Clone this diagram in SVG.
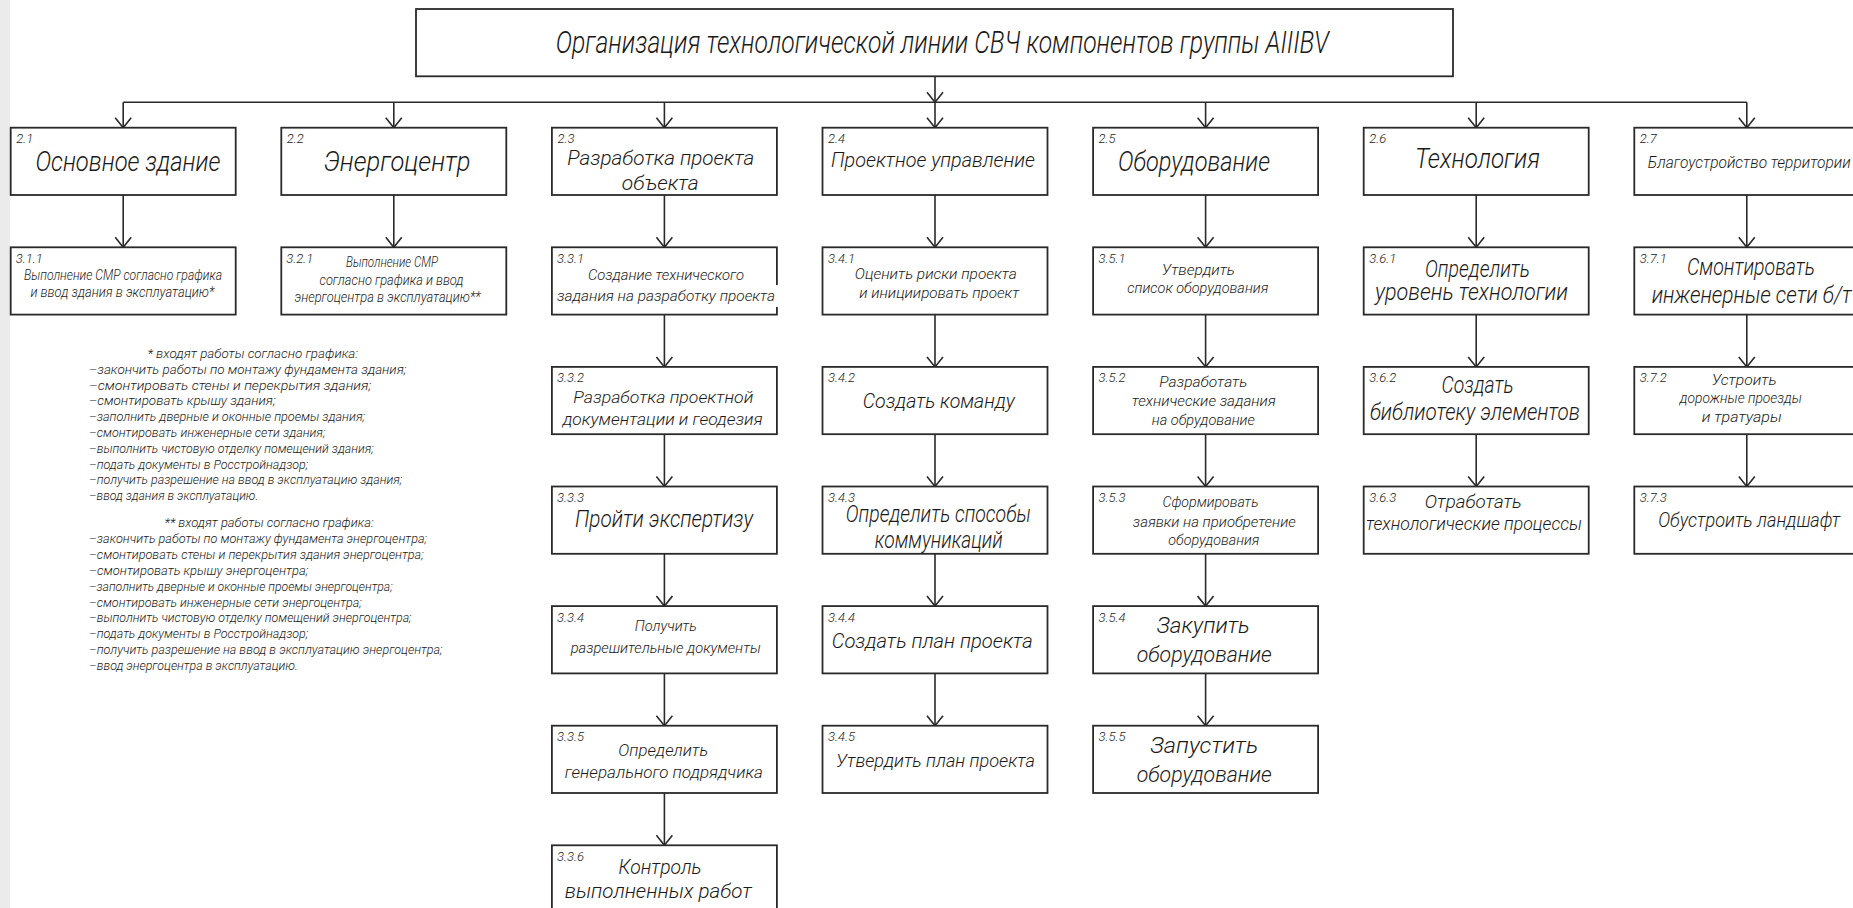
<svg xmlns="http://www.w3.org/2000/svg" width="1853" height="908" viewBox="0 0 1853 908">
<style>
.bg{fill:#ffffff}
.box{fill:#ffffff;stroke:#2a2a2a;stroke-width:1.8}
.mask{fill:#ffffff;stroke:none}
.ln{stroke:#2a2a2a;stroke-width:1.6;fill:none}
.t{font-family:Roboto,"Open Sans","Liberation Sans Narrow",sans-serif;font-weight:300;font-style:italic;fill:#1a1a1a;text-anchor:middle}
.n{font-family:Roboto,"Open Sans","Liberation Sans Narrow",sans-serif;font-weight:300;font-style:italic;fill:#1a1a1a;font-size:13px;text-anchor:start}
.nt{font-family:Roboto,"Open Sans","Liberation Sans Narrow",sans-serif;font-weight:300;font-style:italic;fill:#1a1a1a;font-size:12px;text-anchor:start}
</style>
<defs>
<marker id="ah" viewBox="-1 -9 12 18" refX="10" refY="0" markerWidth="12" markerHeight="18" markerUnits="userSpaceOnUse" orient="auto">
<path d="M0,-8 L10,0 L0,8" fill="none" stroke="#2a2a2a" stroke-width="1.6"/>
</marker>
</defs>
<rect class="bg" x="0" y="0" width="1853" height="908"/>
<rect x="0" y="0" width="10" height="908" fill="#ebebeb"/>

<g id="connectors">
<line class="ln" x1="935" y1="76.3" x2="935" y2="102.3" marker-end="url(#ah)"/>
<line class="ln" x1="123.2" y1="102.3" x2="1746.8" y2="102.3"/>
<line class="ln" x1="123.2" y1="102.3" x2="123.2" y2="127.7" marker-end="url(#ah)"/>
<line class="ln" x1="393.8" y1="102.3" x2="393.8" y2="127.7" marker-end="url(#ah)"/>
<line class="ln" x1="664.4" y1="102.3" x2="664.4" y2="127.7" marker-end="url(#ah)"/>
<line class="ln" x1="935" y1="102.3" x2="935" y2="127.7" marker-end="url(#ah)"/>
<line class="ln" x1="1205.6" y1="102.3" x2="1205.6" y2="127.7" marker-end="url(#ah)"/>
<line class="ln" x1="1476.2" y1="102.3" x2="1476.2" y2="127.7" marker-end="url(#ah)"/>
<line class="ln" x1="1746.8" y1="102.3" x2="1746.8" y2="127.7" marker-end="url(#ah)"/>
<line class="ln" x1="123.2" y1="195" x2="123.2" y2="247.3" marker-end="url(#ah)"/>
<line class="ln" x1="393.8" y1="195" x2="393.8" y2="247.3" marker-end="url(#ah)"/>
<line class="ln" x1="664.4" y1="195" x2="664.4" y2="247.3" marker-end="url(#ah)"/>
<line class="ln" x1="664.4" y1="314.6" x2="664.4" y2="366.9" marker-end="url(#ah)"/>
<line class="ln" x1="664.4" y1="434.2" x2="664.4" y2="486.5" marker-end="url(#ah)"/>
<line class="ln" x1="664.4" y1="553.8" x2="664.4" y2="606.1" marker-end="url(#ah)"/>
<line class="ln" x1="664.4" y1="673.4" x2="664.4" y2="725.7" marker-end="url(#ah)"/>
<line class="ln" x1="664.4" y1="793" x2="664.4" y2="845.3" marker-end="url(#ah)"/>
<line class="ln" x1="935" y1="195" x2="935" y2="247.3" marker-end="url(#ah)"/>
<line class="ln" x1="935" y1="314.6" x2="935" y2="366.9" marker-end="url(#ah)"/>
<line class="ln" x1="935" y1="434.2" x2="935" y2="486.5" marker-end="url(#ah)"/>
<line class="ln" x1="935" y1="553.8" x2="935" y2="606.1" marker-end="url(#ah)"/>
<line class="ln" x1="935" y1="673.4" x2="935" y2="725.7" marker-end="url(#ah)"/>
<line class="ln" x1="1205.6" y1="195" x2="1205.6" y2="247.3" marker-end="url(#ah)"/>
<line class="ln" x1="1205.6" y1="314.6" x2="1205.6" y2="366.9" marker-end="url(#ah)"/>
<line class="ln" x1="1205.6" y1="434.2" x2="1205.6" y2="486.5" marker-end="url(#ah)"/>
<line class="ln" x1="1205.6" y1="553.8" x2="1205.6" y2="606.1" marker-end="url(#ah)"/>
<line class="ln" x1="1205.6" y1="673.4" x2="1205.6" y2="725.7" marker-end="url(#ah)"/>
<line class="ln" x1="1476.2" y1="195" x2="1476.2" y2="247.3" marker-end="url(#ah)"/>
<line class="ln" x1="1476.2" y1="314.6" x2="1476.2" y2="366.9" marker-end="url(#ah)"/>
<line class="ln" x1="1476.2" y1="434.2" x2="1476.2" y2="486.5" marker-end="url(#ah)"/>
<line class="ln" x1="1746.8" y1="195" x2="1746.8" y2="247.3" marker-end="url(#ah)"/>
<line class="ln" x1="1746.8" y1="314.6" x2="1746.8" y2="366.9" marker-end="url(#ah)"/>
<line class="ln" x1="1746.8" y1="434.2" x2="1746.8" y2="486.5" marker-end="url(#ah)"/>
</g>

<g id="n-title">
<rect class="box" x="416" y="9" width="1037" height="67.3"/>
<text class="t" x="942.3" y="52.7" font-size="31" textLength="773" lengthAdjust="spacingAndGlyphs">Организация технологической линии СВЧ компонентов группы AIIIBV</text>
</g>

<g id="n2-1">
<rect class="box" x="10.7" y="127.7" width="225" height="67.3"/>
<text class="n" x="16.2" y="143.3">2.1</text>
<text class="t" x="127.9" y="171" font-size="27" textLength="185" lengthAdjust="spacingAndGlyphs">Основное здание</text>
</g>
<g id="n2-2">
<rect class="box" x="281.3" y="127.7" width="225" height="67.3"/>
<text class="n" x="286.8" y="143.3">2.2</text>
<text class="t" x="397" y="171" font-size="27" textLength="147" lengthAdjust="spacingAndGlyphs">Энергоцентр</text>
</g>
<g id="n2-3">
<rect class="box" x="551.9" y="127.7" width="225" height="67.3"/>
<text class="n" x="557.4" y="143.3">2.3</text>
<text class="t" x="660.8" y="165" font-size="21" textLength="187" lengthAdjust="spacingAndGlyphs">Разработка проекта</text>
<text class="t" x="660.3" y="190" font-size="21" textLength="77" lengthAdjust="spacingAndGlyphs">объекта</text>
</g>
<g id="n2-4">
<rect class="box" x="822.5" y="127.7" width="225" height="67.3"/>
<text class="n" x="828" y="143.3">2.4</text>
<text class="t" x="933" y="166.7" font-size="21" textLength="204" lengthAdjust="spacingAndGlyphs">Проектное управление</text>
</g>
<g id="n2-5">
<rect class="box" x="1093.1" y="127.7" width="225" height="67.3"/>
<text class="n" x="1098.6" y="143.3">2.5</text>
<text class="t" x="1194" y="171" font-size="27" textLength="152" lengthAdjust="spacingAndGlyphs">Оборудование</text>
</g>
<g id="n2-6">
<rect class="box" x="1363.7" y="127.7" width="225" height="67.3"/>
<text class="n" x="1369.2" y="143.3">2.6</text>
<text class="t" x="1477.5" y="168.3" font-size="28" textLength="125" lengthAdjust="spacingAndGlyphs">Технология</text>
</g>
<g id="n2-7">
<rect class="box" x="1634.3" y="127.7" width="225" height="67.3"/>
<text class="n" x="1639.8" y="143.3">2.7</text>
<text class="t" x="1749.2" y="168.3" font-size="16" textLength="203" lengthAdjust="spacingAndGlyphs">Благоустройство территории</text>
</g>

<g id="n3-1-1">
<rect class="box" x="10.7" y="247.3" width="225" height="67.3"/>
<text class="n" x="15.7" y="262.8">3.1.1</text>
<text class="t" x="123" y="280" font-size="14" textLength="198" lengthAdjust="spacingAndGlyphs">Выполнение СМР согласно графика</text>
<text class="t" x="122.4" y="297" font-size="14" textLength="184" lengthAdjust="spacingAndGlyphs">и ввод здания в эксплуатацию*</text>
</g>
<g id="n3-2-1">
<rect class="box" x="281.3" y="247.3" width="225" height="67.3"/>
<text class="n" x="286.3" y="262.8">3.2.1</text>
<text class="t" x="392" y="267" font-size="14" textLength="92" lengthAdjust="spacingAndGlyphs">Выполнение СМР</text>
<text class="t" x="391.5" y="285" font-size="14" textLength="144" lengthAdjust="spacingAndGlyphs">согласно графика и ввод</text>
<text class="t" x="387.5" y="302" font-size="14" textLength="186" lengthAdjust="spacingAndGlyphs">энергоцентра в эксплуатацию**</text>
</g>

<g id="n3-3-1">
<rect class="box" x="551.9" y="247.3" width="225" height="67.3"/>
<rect class="mask" x="773" y="285" width="8" height="22"/>
<text class="n" x="556.9" y="262.8">3.3.1</text>
<text class="t" x="666" y="279.8" font-size="15" textLength="156" lengthAdjust="spacingAndGlyphs">Создание технического</text>
<text class="t" x="666" y="301.3" font-size="15" textLength="218" lengthAdjust="spacingAndGlyphs">задания на разработку проекта</text>
</g>
<g id="n3-3-2">
<rect class="box" x="551.9" y="366.9" width="225" height="67.3"/>
<text class="n" x="556.9" y="382.4">3.3.2</text>
<text class="t" x="663.3" y="402.9" font-size="17" textLength="180" lengthAdjust="spacingAndGlyphs">Разработка проектной</text>
<text class="t" x="662.7" y="424.6" font-size="17" textLength="200" lengthAdjust="spacingAndGlyphs">документации и геодезия</text>
</g>
<g id="n3-3-3">
<rect class="box" x="551.9" y="486.5" width="225" height="67.3"/>
<text class="n" x="556.9" y="502">3.3.3</text>
<text class="t" x="664" y="526.9" font-size="24" textLength="178" lengthAdjust="spacingAndGlyphs">Пройти экспертизу</text>
</g>
<g id="n3-3-4">
<rect class="box" x="551.9" y="606.1" width="225" height="67.3"/>
<text class="n" x="556.9" y="621.6">3.3.4</text>
<text class="t" x="665.8" y="631" font-size="15" textLength="62" lengthAdjust="spacingAndGlyphs">Получить</text>
<text class="t" x="665.7" y="653" font-size="15" textLength="190" lengthAdjust="spacingAndGlyphs">разрешительные документы</text>
</g>
<g id="n3-3-5">
<rect class="box" x="551.9" y="725.7" width="225" height="67.3"/>
<text class="n" x="556.9" y="741.2">3.3.5</text>
<text class="t" x="663.3" y="755.7" font-size="17" textLength="90" lengthAdjust="spacingAndGlyphs">Определить</text>
<text class="t" x="663.8" y="777.7" font-size="17" textLength="198" lengthAdjust="spacingAndGlyphs">генерального подрядчика</text>
</g>
<g id="n3-3-6">
<rect class="box" x="551.9" y="845.3" width="225" height="67.3"/>
<text class="n" x="556.9" y="860.8">3.3.6</text>
<text class="t" x="660" y="874.3" font-size="21" textLength="83" lengthAdjust="spacingAndGlyphs">Контроль</text>
<text class="t" x="658.3" y="898.3" font-size="21" textLength="187" lengthAdjust="spacingAndGlyphs">выполненных работ</text>
</g>

<g id="n3-4-1">
<rect class="box" x="822.5" y="247.3" width="225" height="67.3"/>
<text class="n" x="828" y="262.8">3.4.1</text>
<text class="t" x="935.8" y="279.3" font-size="15" textLength="162" lengthAdjust="spacingAndGlyphs">Оценить риски проекта</text>
<text class="t" x="939.3" y="297.7" font-size="15" textLength="160" lengthAdjust="spacingAndGlyphs">и инициировать проект</text>
</g>
<g id="n3-4-2">
<rect class="box" x="822.5" y="366.9" width="225" height="67.3"/>
<text class="n" x="828" y="382.4">3.4.2</text>
<text class="t" x="938.8" y="408.3" font-size="21" textLength="152" lengthAdjust="spacingAndGlyphs">Создать команду</text>
</g>
<g id="n3-4-3">
<rect class="box" x="822.5" y="486.5" width="225" height="67.3"/>
<text class="n" x="828" y="502">3.4.3</text>
<text class="t" x="938.3" y="521.7" font-size="23" textLength="185" lengthAdjust="spacingAndGlyphs">Определить способы</text>
<text class="t" x="938.8" y="547.7" font-size="23" textLength="128" lengthAdjust="spacingAndGlyphs">коммуникаций</text>
</g>
<g id="n3-4-4">
<rect class="box" x="822.5" y="606.1" width="225" height="67.3"/>
<text class="n" x="828" y="621.6">3.4.4</text>
<text class="t" x="932.2" y="648.3" font-size="21" textLength="201" lengthAdjust="spacingAndGlyphs">Создать план проекта</text>
</g>
<g id="n3-4-5">
<rect class="box" x="822.5" y="725.7" width="225" height="67.3"/>
<text class="n" x="828" y="741.2">3.4.5</text>
<text class="t" x="935.5" y="766.7" font-size="19" textLength="199" lengthAdjust="spacingAndGlyphs">Утвердить план проекта</text>
</g>

<g id="n3-5-1">
<rect class="box" x="1093.1" y="247.3" width="225" height="67.3"/>
<text class="n" x="1098.6" y="262.8">3.5.1</text>
<text class="t" x="1198.3" y="275" font-size="15" textLength="73" lengthAdjust="spacingAndGlyphs">Утвердить</text>
<text class="t" x="1197.8" y="293.3" font-size="15" textLength="141" lengthAdjust="spacingAndGlyphs">список оборудования</text>
</g>
<g id="n3-5-2">
<rect class="box" x="1093.1" y="366.9" width="225" height="67.3"/>
<text class="n" x="1098.6" y="382.4">3.5.2</text>
<text class="t" x="1203.3" y="386.7" font-size="15" textLength="88" lengthAdjust="spacingAndGlyphs">Разработать</text>
<text class="t" x="1203.8" y="405.7" font-size="15" textLength="144" lengthAdjust="spacingAndGlyphs">технические задания</text>
<text class="t" x="1203.3" y="425" font-size="15" textLength="103" lengthAdjust="spacingAndGlyphs">на обрудование</text>
</g>
<g id="n3-5-3">
<rect class="box" x="1093.1" y="486.5" width="225" height="67.3"/>
<text class="n" x="1098.6" y="502">3.5.3</text>
<text class="t" x="1210.5" y="506.7" font-size="15" textLength="96" lengthAdjust="spacingAndGlyphs">Сформировать</text>
<text class="t" x="1214.3" y="526.7" font-size="15" textLength="163" lengthAdjust="spacingAndGlyphs">заявки на приобретение</text>
<text class="t" x="1213.8" y="545" font-size="15" textLength="91" lengthAdjust="spacingAndGlyphs">оборудования</text>
</g>
<g id="n3-5-4">
<rect class="box" x="1093.1" y="606.1" width="225" height="67.3"/>
<text class="n" x="1098.6" y="621.6">3.5.4</text>
<text class="t" x="1203.3" y="633.3" font-size="22" textLength="93" lengthAdjust="spacingAndGlyphs">Закупить</text>
<text class="t" x="1204.2" y="661.7" font-size="22" textLength="135" lengthAdjust="spacingAndGlyphs">оборудование</text>
</g>
<g id="n3-5-5">
<rect class="box" x="1093.1" y="725.7" width="225" height="67.3"/>
<text class="n" x="1098.6" y="741.2">3.5.5</text>
<text class="t" x="1204.2" y="753.3" font-size="22" textLength="108" lengthAdjust="spacingAndGlyphs">Запустить</text>
<text class="t" x="1204.2" y="781.7" font-size="22" textLength="135" lengthAdjust="spacingAndGlyphs">оборудование</text>
</g>

<g id="n3-6-1">
<rect class="box" x="1363.7" y="247.3" width="225" height="67.3"/>
<text class="n" x="1369.2" y="262.8">3.6.1</text>
<text class="t" x="1477.5" y="276.7" font-size="23" textLength="105" lengthAdjust="spacingAndGlyphs">Определить</text>
<text class="t" x="1471.5" y="300" font-size="23" textLength="193" lengthAdjust="spacingAndGlyphs">уровень технологии</text>
</g>
<g id="n3-6-2">
<rect class="box" x="1363.7" y="366.9" width="225" height="67.3"/>
<text class="n" x="1369.2" y="382.4">3.6.2</text>
<text class="t" x="1477.5" y="393.3" font-size="23" textLength="72" lengthAdjust="spacingAndGlyphs">Создать</text>
<text class="t" x="1475" y="420" font-size="23" textLength="210" lengthAdjust="spacingAndGlyphs">библиотеку элементов</text>
</g>
<g id="n3-6-3">
<rect class="box" x="1363.7" y="486.5" width="225" height="67.3"/>
<text class="n" x="1369.2" y="502">3.6.3</text>
<text class="t" x="1473.3" y="508.3" font-size="19" textLength="97" lengthAdjust="spacingAndGlyphs">Отработать</text>
<text class="t" x="1474" y="530" font-size="19" textLength="216" lengthAdjust="spacingAndGlyphs">технологические процессы</text>
</g>

<g id="n3-7-1">
<rect class="box" x="1634.3" y="247.3" width="225" height="67.3"/>
<text class="n" x="1639.8" y="262.8">3.7.1</text>
<text class="t" x="1751" y="275" font-size="24" textLength="128" lengthAdjust="spacingAndGlyphs">Смонтировать</text>
<text class="t" x="1651.7" y="303.3" font-size="24" textLength="200" lengthAdjust="spacingAndGlyphs" style="text-anchor:start">инженерные сети б/т</text>
</g>
<g id="n3-7-2">
<rect class="box" x="1634.3" y="366.9" width="225" height="67.3"/>
<text class="n" x="1639.8" y="382.4">3.7.2</text>
<text class="t" x="1744.2" y="385" font-size="15" textLength="65" lengthAdjust="spacingAndGlyphs">Устроить</text>
<text class="t" x="1740.8" y="403.3" font-size="15" textLength="122" lengthAdjust="spacingAndGlyphs">дорожные проезды</text>
<text class="t" x="1741.7" y="421.7" font-size="15" textLength="80" lengthAdjust="spacingAndGlyphs">и тратуары</text>
</g>
<g id="n3-7-3">
<rect class="box" x="1634.3" y="486.5" width="225" height="67.3"/>
<text class="n" x="1639.8" y="502">3.7.3</text>
<text class="t" x="1749.2" y="526.7" font-size="21" textLength="182" lengthAdjust="spacingAndGlyphs">Обустроить ландшафт</text>
</g>

<g id="notes">
<text class="nt" x="147.4" y="357.9" textLength="210.7" lengthAdjust="spacingAndGlyphs">* входят работы согласно графика:</text>
<text class="nt" x="88.8" y="373.7" textLength="317.5" lengthAdjust="spacingAndGlyphs">–закончить работы по монтажу фундамента здания;</text>
<text class="nt" x="88.8" y="389.5" textLength="282.4" lengthAdjust="spacingAndGlyphs">–смонтировать стены и перекрытия здания;</text>
<text class="nt" x="88.8" y="405.3" textLength="186.7" lengthAdjust="spacingAndGlyphs">–смонтировать крышу здания;</text>
<text class="nt" x="88.8" y="421.1" textLength="276.2" lengthAdjust="spacingAndGlyphs">–заполнить дверные и оконные проемы здания;</text>
<text class="nt" x="88.8" y="436.9" textLength="236.6" lengthAdjust="spacingAndGlyphs">–смонтировать инженерные сети здания;</text>
<text class="nt" x="88.8" y="452.7" textLength="284.8" lengthAdjust="spacingAndGlyphs">–выполнить чистовую отделку помещений здания;</text>
<text class="nt" x="88.8" y="468.5" textLength="219.4" lengthAdjust="spacingAndGlyphs">–подать документы в Росстройнадзор;</text>
<text class="nt" x="88.8" y="484.3" textLength="313.4" lengthAdjust="spacingAndGlyphs">–получить разрешение на ввод в эксплуатацию здания;</text>
<text class="nt" x="88.8" y="500.1" textLength="169.5" lengthAdjust="spacingAndGlyphs">–ввод здания в эксплуатацию.</text>
<text class="nt" x="164.6" y="527.3" textLength="209" lengthAdjust="spacingAndGlyphs">** входят работы согласно графика:</text>
<text class="nt" x="88.8" y="543.3" textLength="338.2" lengthAdjust="spacingAndGlyphs">–закончить работы по монтажу фундамента энергоцентра;</text>
<text class="nt" x="88.8" y="559.1" textLength="334.8" lengthAdjust="spacingAndGlyphs">–смонтировать стены и перекрытия здания энергоцентра;</text>
<text class="nt" x="88.8" y="574.9" textLength="219.4" lengthAdjust="spacingAndGlyphs">–смонтировать крышу энергоцентра;</text>
<text class="nt" x="88.8" y="590.7" textLength="303.8" lengthAdjust="spacingAndGlyphs">–заполнить дверные и оконные проемы энергоцентра;</text>
<text class="nt" x="88.8" y="606.5" textLength="272.8" lengthAdjust="spacingAndGlyphs">–смонтировать инженерные сети энергоцентра;</text>
<text class="nt" x="88.8" y="622.3" textLength="322.7" lengthAdjust="spacingAndGlyphs">–выполнить чистовую отделку помещений энергоцентра;</text>
<text class="nt" x="88.8" y="638.1" textLength="219.4" lengthAdjust="spacingAndGlyphs">–подать документы в Росстройнадзор;</text>
<text class="nt" x="88.8" y="653.9" textLength="353.7" lengthAdjust="spacingAndGlyphs">–получить разрешение на ввод в эксплуатацию энергоцентра;</text>
<text class="nt" x="88.8" y="669.7" textLength="209.1" lengthAdjust="spacingAndGlyphs">–ввод энергоцентра в эксплуатацию.</text>
</g>
</svg>
